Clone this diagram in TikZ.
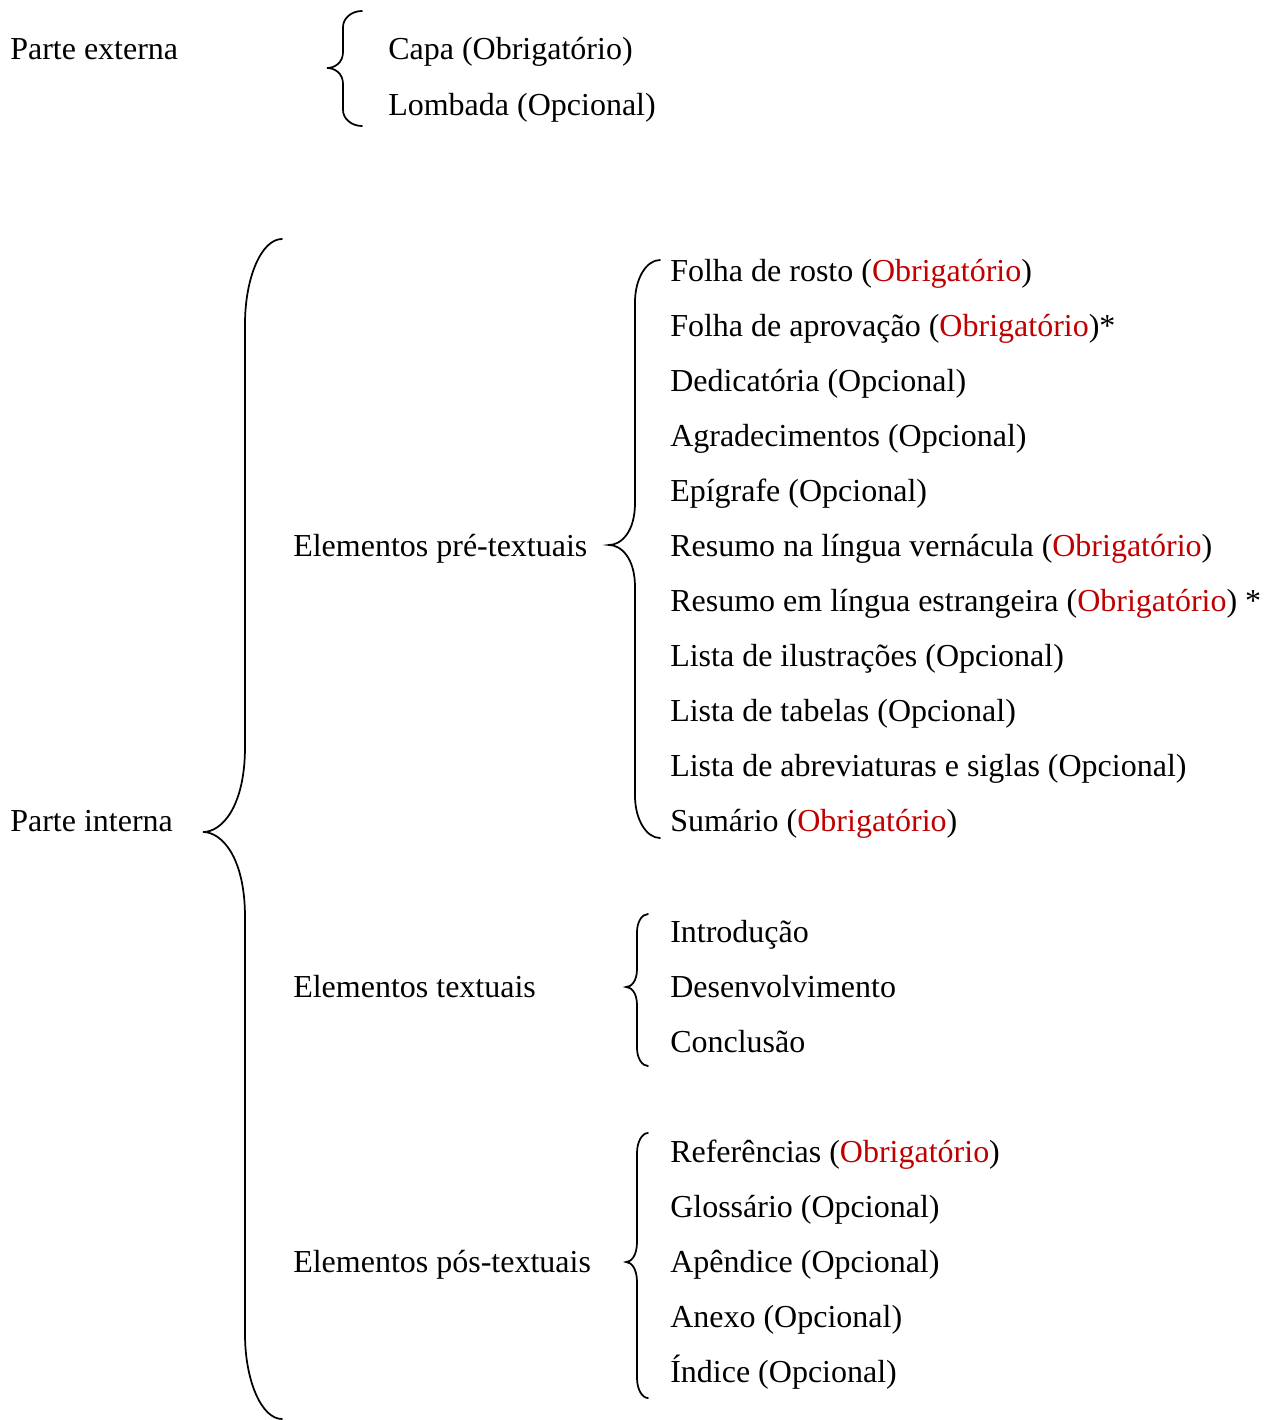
\documentclass[tikz,border=0pt]{standalone}
\usepackage{fontspec}
\setmainfont{Liberation Serif}
\usepackage{xcolor}
\usepackage{tikz}

\definecolor{obrred}{RGB}{192,0,0}
\newcommand{\obr}[1]{(\textcolor{obrred}{#1})}
% end x, vertical x, tip x, top y, tip y, bottom y, bend
\newcommand{\chave}[7]{%
  \draw[chave] (#1,#4) .. controls (#2+0.45*#1-0.45*#2,#4) and (#2,#4+0.45*#7) .. (#2,#4+#7)
    -- (#2,#5-#7) .. controls (#2,#5-0.3*#7) and (#3+0.45*#2-0.45*#3,#5) .. (#3,#5)
    .. controls (#3+0.45*#2-0.45*#3,#5) and (#2,#5+0.3*#7) .. (#2,#5+#7)
    -- (#2,#6-#7) .. controls (#2,#6-0.45*#7) and (#2+0.45*#1-0.45*#2,#6) .. (#1,#6);}

\begin{document}
\begin{tikzpicture}[x=0.75pt, y=-0.75pt, font=\fontsize{24}{28}\selectfont,
                        item/.style={anchor=base west, inner sep=0pt},
                        chave/.style={line width=1.3pt, line cap=round}]
    \useasboundingbox (0,0) rectangle (1269,1420);
        % parte externa
        \node[item] (externa) at (10,60) {Parte externa};
        \node[item] (capa) at (388,60) {Capa (Obrigatório)};
        \node[item] (lombada) at (388,115) {Lombada (Opcional)};
        \chave{362}{343}{327}{11}{68}{126}{16}
        % parte interna
        \node[item] (interna) at (10,831) {Parte interna};
        \chave{282}{245}{203}{239}{832}{1419}{85}
        \node[item] (pre) at (293,556) {Elementos pré-textuais};
        \node[item] (textuais) at (293,997) {Elementos textuais};
        \node[item] (pos) at (293,1272) {Elementos pós-textuais};
        % pre-textuais
        \chave{660}{635}{609}{260}{545}{838}{42}
        \node[item] (rosto) at (670,281) {Folha de rosto \obr{Obrigatório}};
        \node[item] (aprovacao) at (670,336) {Folha de aprovação \obr{Obrigatório}*};
        \node[item] (dedicatoria) at (670,391) {Dedicatória (Opcional)};
        \node[item] (agradec) at (670,446) {Agradecimentos (Opcional)};
        \node[item] (epigrafe) at (670,501) {Epígrafe (Opcional)};
        \node[item] (resumo) at (670,556) {Resumo na língua vernácula \obr{Obrigatório}};
        \node[item] (abstract) at (670,611) {Resumo em língua estrangeira \obr{Obrigatório} *};
        \node[item] (ilustr) at (670,666) {Lista de ilustrações (Opcional)};
        \node[item] (tabelas) at (670,721) {Lista de tabelas (Opcional)};
        \node[item] (siglas) at (670,776) {Lista de abreviaturas e siglas (Opcional)};
        \node[item] (sumario) at (670,831) {Sumário \obr{Obrigatório}};
        % textuais
        \chave{648}{637}{626}{914}{987}{1066}{18}
        \node[item] (intro) at (670,942) {Introdução};
        \node[item] (desenv) at (670,997) {Desenvolvimento};
        \node[item] (concl) at (670,1052) {Conclusão};
        % pos-textuais
        \chave{648}{637}{626}{1133}{1262}{1398}{20}
        \node[item] (refs) at (670,1162) {Referências \obr{Obrigatório}};
        \node[item] (gloss) at (670,1217) {Glossário (Opcional)};
        \node[item] (apend) at (670,1272) {Apêndice (Opcional)};
        \node[item] (anexo) at (670,1327) {Anexo (Opcional)};
        \node[item] (indice) at (670,1382) {Índice (Opcional)};
\end{tikzpicture}
\end{document}
